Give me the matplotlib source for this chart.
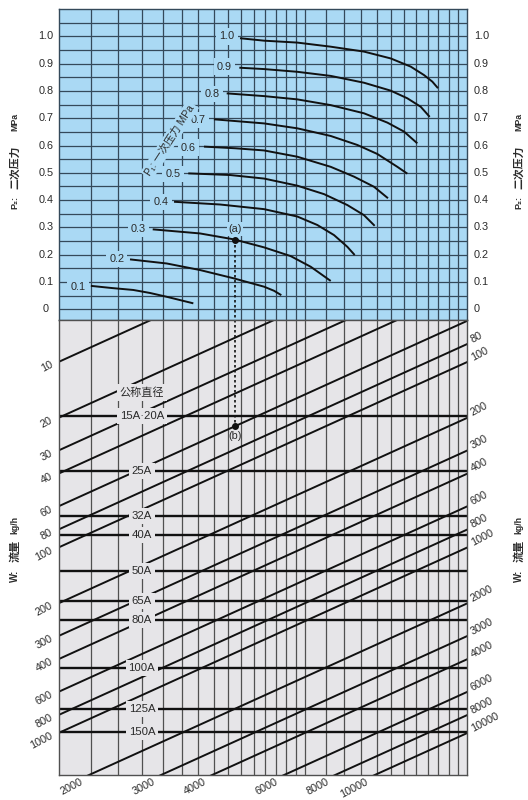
import matplotlib.pyplot as plt
from matplotlib.ticker import NullLocator

plt.rcParams['font.family'] = ['Liberation Sans', 'Noto Sans CJK SC', 'DejaVu Sans']

# vertical grid: pressure factor (log scale, 1..10)
grid_f = [1.2, 1.4, 1.6, 1.8, 2.0, 2.2, 2.4, 2.6, 2.8, 3.0, 3.2, 3.4, 3.6, 3.8, 4.0,
          4.5, 5.0, 5.5, 6.0, 6.5, 7.0, 7.5, 8.0, 8.5, 9.0, 9.5]

# upper chart: secondary pressure P2 (MPa)
p2_ticks = [0, 0.1, 0.2, 0.3, 0.4, 0.5, 0.6, 0.7, 0.8, 0.9, 1.0]
p2_tick_labels = ['0', '0.1', '0.2', '0.3', '0.4', '0.5', '0.6', '0.7', '0.8', '0.9', '1.0']
p2_grid = [0, 0.05, 0.1, 0.15, 0.2, 0.25, 0.3, 0.35, 0.4, 0.45, 0.5, 0.55,
           0.6, 0.65, 0.7, 0.75, 0.8, 0.85, 0.9, 0.95, 1.0, 1.05]

# primary pressure P1 curves
p1_labels = ['0.1', '0.2', '0.3', '0.4', '0.5', '0.6', '0.7', '0.8', '0.9', '1.0']
p1_label_f = [1.118, 1.388, 1.568, 1.781, 1.903, 2.077, 2.198, 2.371, 2.545, 2.579]
p1_label_p2 = [0.083, 0.184, 0.294, 0.394, 0.496, 0.592, 0.693, 0.788, 0.889, 1.0]
curve_f = [
    [1.20, 1.352, 1.524, 1.674, 1.84, 1.983, 2.137],
    [1.496, 1.84, 2.219, 2.677, 3.183, 3.367, 3.508],
    [1.70, 2.219, 2.692, 3.183, 3.698, 4.14, 4.633],
    [1.917, 2.484, 3.183, 3.838, 4.296, 4.72, 5.088, 5.303],
    [2.077, 2.627, 3.183, 3.838, 4.462, 5.088, 5.588, 5.935],
    [2.269, 2.703, 3.183, 3.838, 4.633, 5.284, 5.912, 6.397],
    [2.40, 3.183, 3.838, 4.633, 5.383, 6.025, 6.743, 7.133],
    [2.579, 3.183, 3.838, 4.633, 5.588, 6.373, 7.002, 7.546],
    [2.769, 3.183, 3.838, 4.633, 5.588, 6.495, 7.133, 7.691, 8.091],
    [2.78, 3.183, 3.838, 4.633, 5.588, 6.495, 7.270, 7.837, 8.212, 8.478],
]
curve_p2 = [
    [0.086, 0.078, 0.071, 0.060, 0.046, 0.034, 0.022],
    [0.183, 0.168, 0.144, 0.114, 0.083, 0.068, 0.052],
    [0.293, 0.278, 0.256, 0.227, 0.195, 0.156, 0.104],
    [0.394, 0.384, 0.367, 0.340, 0.309, 0.272, 0.229, 0.199],
    [0.498, 0.492, 0.479, 0.453, 0.422, 0.382, 0.345, 0.306],
    [0.596, 0.590, 0.582, 0.559, 0.522, 0.486, 0.449, 0.407],
    [0.696, 0.681, 0.663, 0.635, 0.602, 0.569, 0.522, 0.497],
    [0.791, 0.781, 0.769, 0.748, 0.718, 0.684, 0.651, 0.608],
    [0.885, 0.880, 0.870, 0.855, 0.830, 0.801, 0.773, 0.742, 0.705],
    [0.993, 0.984, 0.977, 0.962, 0.944, 0.919, 0.889, 0.858, 0.834, 0.810],
]

# lower chart: flow lines W (kg/h)
flow_values = [10, 20, 30, 40, 60, 80, 100, 200, 300, 400, 600, 800, 1000,
               2000, 3000, 4000, 6000, 8000, 10000]
flow_left = [10, 20, 30, 40, 60, 80, 100, 200, 300, 400, 600, 800, 1000]
flow_right = [80, 100, 200, 300, 400, 600, 800, 1000, 2000, 3000, 4000, 6000, 8000, 10000]
flow_bottom = [2000, 3000, 4000, 6000, 8000, 10000]

# nominal diameter lines
pipe_names = ['15A·20A', '25A', '32A', '40A', '50A', '65A', '80A', '100A', '125A', '150A']
pipe_k = [19.5, 38.7, 67.7, 85.6, 134, 194, 246, 446, 742, 988]

# worked example
point_a = (2.70, 0.254)
point_b_flow = 60

BLUE = '#aad9f4'
GRAY = '#e6e5e8'
GRID_B = '#34495a'
GRID_G = '#505050'
INK = '#111111'
TXT = '#2a2a2a'

K_TOP, K_BOT = 5.94, 1684

fig = plt.figure(figsize=(5.28, 8.0), dpi=100)
L, R = 58.5 / 528, 467.3 / 528
ax1 = fig.add_axes([L, 1 - 320 / 800, R - L, (320 - 9) / 800])
ax2 = fig.add_axes([L, 1 - 775 / 800, R - L, (775 - 320) / 800])
ax2.set_yscale('log')

for ax, bg, gc in ((ax1, BLUE, GRID_B), (ax2, GRAY, GRID_G)):
    ax.set_xscale('log')
    ax.set_xlim(1, 10)
    ax.set_facecolor(bg)
    for axis in (ax.xaxis, ax.yaxis):
        axis.set_major_locator(NullLocator())
        axis.set_minor_locator(NullLocator())
    for sp in ax.spines.values():
        sp.set_color(gc)
        sp.set_linewidth(1.0)
    for f in grid_f:
        ax.axvline(f, color=gc, lw=0.9, zorder=1)

# ---- upper: pressures
ax1.set_ylim(-0.039, 1.1)
for p in p2_grid:
    ax1.axhline(p, color=GRID_B, lw=0.9, zorder=1)
for p, lab in zip(p2_ticks, p2_tick_labels):
    ax1.text(-0.0306, p, lab, transform=ax1.get_yaxis_transform(), ha='center',
             va='center', fontsize=7.8, color=TXT)
    ax1.text(1.0164, p, lab, transform=ax1.get_yaxis_transform(), ha='left',
             va='center', fontsize=7.8, color=TXT)

for fs, ps in zip(curve_f, curve_p2):
    ax1.plot(fs, ps, color=INK, lw=1.4, zorder=2, solid_capstyle='butt',
             solid_joinstyle='round')
for lab, f, p in zip(p1_labels, p1_label_f, p1_label_p2):
    ax1.text(f, p, lab, ha='center', va='center', fontsize=7.8, color=TXT, zorder=3,
             bbox=dict(boxstyle='square,pad=0.3', fc=BLUE, ec='none'))

ax1.text(1.87, 0.62, 'P₁: 一次压力 MPa', rotation=57, ha='center', va='center',
         fontsize=7.5, color=TXT, zorder=3,
         bbox=dict(boxstyle='square,pad=0.2', fc=BLUE, ec='none'))

# ---- lower: flow
ax2.set_ylim(K_BOT, K_TOP)
for w in flow_values:
    ax2.plot([1, 10], [w, w / 10], color=INK, lw=1.4, zorder=2)
for name, k in zip(pipe_names, pipe_k):
    ax2.axhline(k, color=INK, lw=1.7, zorder=2)
    ax2.text(1.6, k, name, ha='center', va='center', fontsize=8.2, color=TXT, zorder=3,
             bbox=dict(boxstyle='square,pad=0.25', fc=GRAY, ec='none'))
ax2.text(1.6, 14.6, '公称直径', ha='center', va='center', fontsize=8, color=TXT,
         zorder=3, family=['Noto Sans CJK SC', 'DejaVu Sans'],
         bbox=dict(boxstyle='square,pad=0.25', fc=GRAY, ec='none'))

for w in flow_left:
    ax2.annotate(str(w), (1, w), xytext=(-6.5, -2), textcoords='offset pixels',
                 rotation=28, rotation_mode='anchor', ha='right', va='center',
                 fontsize=7.8, color=TXT, annotation_clip=False)
for w in flow_right:
    ax2.annotate(str(w), (10, w / 10), xytext=(4, 4), textcoords='offset pixels',
                 rotation=28, rotation_mode='anchor', ha='left', va='center',
                 fontsize=7.8, color=TXT, annotation_clip=False)
for w in flow_bottom:
    ax2.annotate(str(w), (w / K_BOT, K_BOT), xytext=(-7, -6), textcoords='offset pixels',
                 rotation=28, rotation_mode='anchor', ha='right', va='center',
                 fontsize=7.8, color=TXT, annotation_clip=False)

# ---- worked example (a) -> (b)
fa, pa = point_a
kb = point_b_flow / fa
ax1.plot([fa, fa], [pa, -0.039], color=INK, lw=1.2, ls=(0, (1.5, 1.5)), zorder=2,
         clip_on=False)
ax1.plot([fa], [pa], 'o', color=INK, ms=4, zorder=4)
ax1.text(fa, pa + 0.022, '(a)', ha='center', va='bottom', fontsize=7.8, color=TXT,
         zorder=3, bbox=dict(boxstyle='square,pad=0.15', fc=BLUE, ec='none'))
ax2.plot([fa, fa], [K_TOP, kb], color=INK, lw=1.2, ls=(0, (1.5, 1.5)), zorder=2)
ax2.plot([fa], [kb], 'o', color=INK, ms=4, zorder=4)
ax2.annotate('(b)', (fa, kb), xytext=(0, -10), textcoords='offset pixels',
             ha='center', va='center', fontsize=7.8, color=TXT, zorder=3)


# ---- side titles
def ftxt(x, y, s, **kw):
    fig.text(x / 528, 1 - y / 800, s, rotation=90, ha='center', va='center',
             color=TXT, fontweight='bold', **kw)


for x in (15, 519):
    ftxt(x, 203, 'P₂:', fontsize=6.5, family=['Liberation Sans', 'DejaVu Sans'])
    ftxt(x, 167, '二次压力', fontsize=7.8, family=['Noto Sans CJK SC', 'DejaVu Sans'])
    ftxt(x, 122, 'MPa', fontsize=6.3)
    ftxt(x, 576, 'W:', fontsize=7, family=['Liberation Sans', 'DejaVu Sans'])
    ftxt(x, 551, '流量', fontsize=8, family=['Noto Sans CJK SC', 'DejaVu Sans'])
    ftxt(x, 525, 'kg/h', fontsize=6.3)

fig.savefig('out.png', dpi=100, facecolor='white')
